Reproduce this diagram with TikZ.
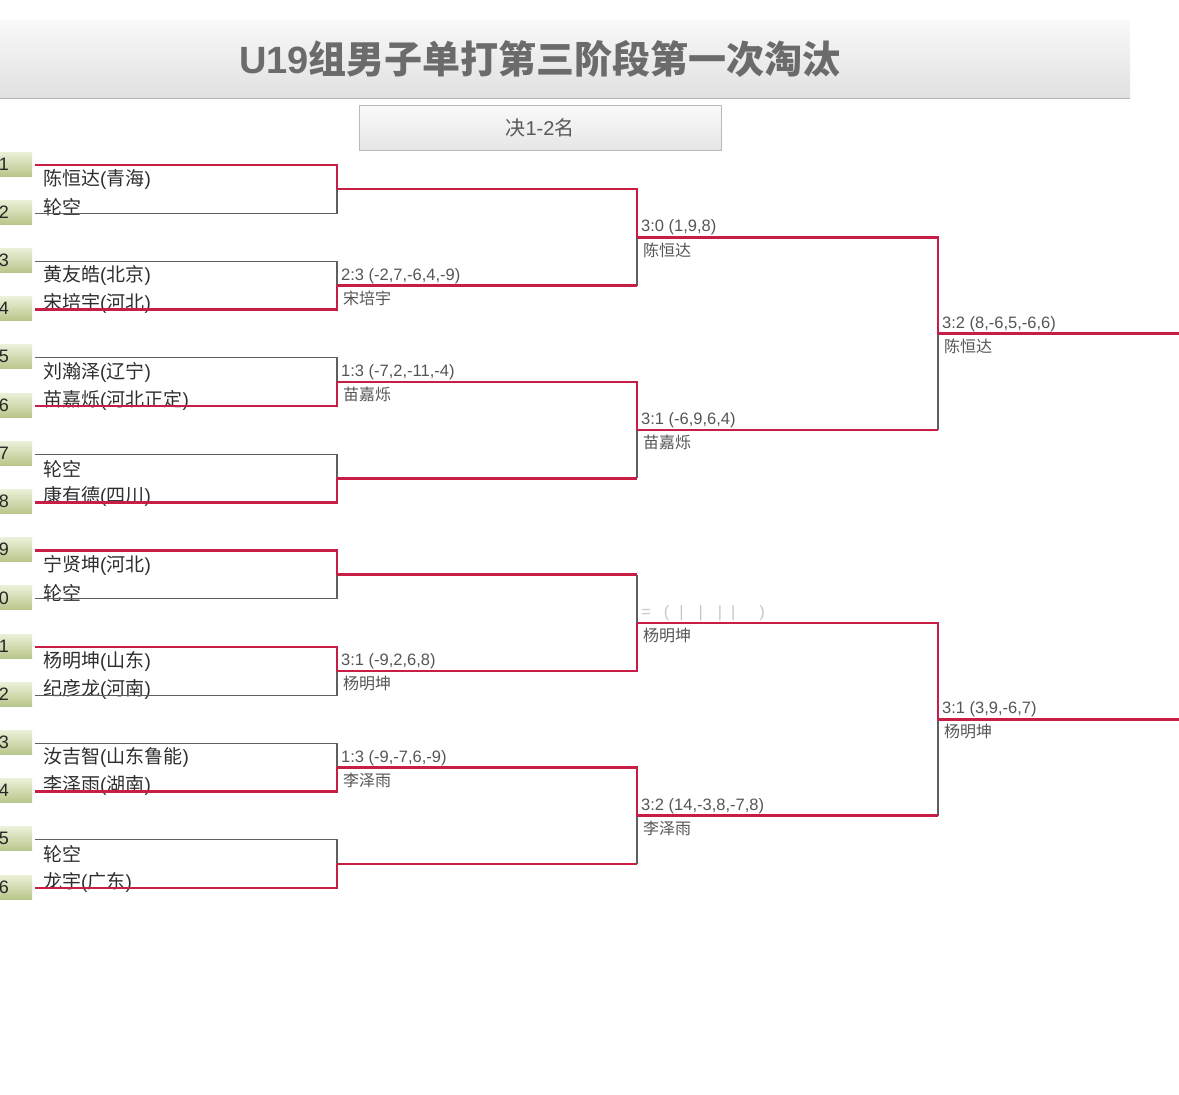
\documentclass[tikz,border=0pt]{standalone}
\usepackage{fontspec}
\setmainfont{Liberation Sans}
\newfontfamily\cjk{Noto Sans CJK SC}
\usetikzlibrary{positioning, calc}

\definecolor{winred}{RGB}{200,30,70}
\definecolor{linegray}{RGB}{95,95,95}
\definecolor{txtgray}{RGB}{85,85,85}
\definecolor{seedlight}{RGB}{234,240,216}
\definecolor{seeddark}{RGB}{184,198,138}

% name with region in brackets
\newcommand{\plname}[2]{{\cjk #1}({\cjk #2})}

\begin{document}
\begin{tikzpicture}[x=1pt, y=-1pt,
    every node/.style={inner sep=0pt},
    win/.style={draw=winred, line width=2.6pt},
    lose/.style={draw=linegray, line width=1.1pt},
    titlebar/.style={minimum width=1180pt, minimum height=78pt,
                     top color=gray!5, bottom color=gray!24, text=black!58,
                     font=\fontsize{38}{38}\selectfont},
    stagebox/.style={draw=gray!55, minimum width=362pt, minimum height=45pt,
                     top color=gray!4, bottom color=gray!20, text=black!65,
                     font=\fontsize{20}{20}\selectfont},
    seedbox/.style={minimum width=62pt, minimum height=24pt,
                    top color=seedlight, bottom color=seeddark},
    seednum/.style={anchor=east, font=\fontsize{18}{18}\selectfont, text=black!85},
    player/.style={anchor=west, xshift=8pt, text=black!82,
                   font=\fontsize{19}{19}\selectfont},
    score/.style={anchor=base west, xshift=4pt, yshift=5.5pt, text=txtgray,
                  font=\fontsize{16.5}{16.5}\selectfont},
    winner/.style={anchor=north west, xshift=6pt, yshift=-5pt, text=txtgray,
                   font=\fontsize{16}{16}\selectfont\cjk}
]
\useasboundingbox (0,0) rectangle (1179,1095);
\clip (0,0) rectangle (1179,1095);

% heading
\node[titlebar] (title) at (540,59) {\bfseries U19\cjk 组男子单打第三阶段第一次淘汰};
\draw[gray!60, line width=1pt] (title.south west) -- (title.south east);
\node[stagebox, below=7pt of title] (stage) {{\cjk 决}1-2{\cjk 名}};

% seeds and entry points
\foreach \i in {1,...,16} {
  \pgfmathsetmacro\yy{165+(\i-1)*48.2}
  \node[seedbox] (b\i) at (1,\yy-1) {};
  \node[seednum] (n\i) at (9,\yy-1) {\i};
  \coordinate (p\i) at (35,\yy);
}

% joints
\coordinate (m1) at (337,189.1);
\coordinate (m2) at (337,285.5);
\coordinate (m3) at (337,381.9);
\coordinate (m4) at (337,478.3);
\coordinate (m5) at (337,574.7);
\coordinate (m6) at (337,671.1);
\coordinate (m7) at (337,767.5);
\coordinate (m8) at (337,863.9);
\coordinate (s1) at (637,237.3);
\coordinate (s2) at (637,430.1);
\coordinate (s3) at (637,622.9);
\coordinate (s4) at (637,815.7);
\coordinate (t1) at (938,333.7);
\coordinate (t2) at (938,719.3);
\coordinate (e1) at (1190,333.7);
\coordinate (e2) at (1190,719.3);

% players
\node[player, yshift=-14.5pt] (a1)  at (p1)  {\plname{陈恒达}{青海}};
\node[player, yshift=6pt]     (a2)  at (p2)  {\cjk 轮空};
\node[player, yshift=-14.5pt] (a3)  at (p3)  {\plname{黄友皓}{北京}};
\node[player, yshift=6pt]     (a4)  at (p4)  {\plname{宋培宇}{河北}};
\node[player, yshift=-14.5pt] (a5)  at (p5)  {\plname{刘瀚泽}{辽宁}};
\node[player, yshift=6pt]     (a6)  at (p6)  {\plname{苗嘉烁}{河北正定}};
\node[player, yshift=-14.5pt] (a7)  at (p7)  {\cjk 轮空};
\node[player, yshift=6pt]     (a8)  at (p8)  {\plname{康有德}{四川}};
\node[player, yshift=-14.5pt] (a9)  at (p9)  {\plname{宁贤坤}{河北}};
\node[player, yshift=6pt]     (a10) at (p10) {\cjk 轮空};
\node[player, yshift=-14.5pt] (a11) at (p11) {\plname{杨明坤}{山东}};
\node[player, yshift=6pt]     (a12) at (p12) {\plname{纪彦龙}{河南}};
\node[player, yshift=-14.5pt] (a13) at (p13) {\plname{汝吉智}{山东鲁能}};
\node[player, yshift=6pt]     (a14) at (p14) {\plname{李泽雨}{湖南}};
\node[player, yshift=-14.5pt] (a15) at (p15) {\cjk 轮空};
\node[player, yshift=6pt]     (a16) at (p16) {\plname{龙宇}{广东}};

% first round
\draw[lose] (p2) -| (m1);
\draw[lose] (p3) -| (m2);
\draw[lose] (p5) -| (m3);
\draw[lose] (p7) -| (m4);
\draw[lose] (p10) -| (m5);
\draw[lose] (p12) -| (m6);
\draw[lose] (p13) -| (m7);
\draw[lose] (p15) -| (m8);
\draw[win] (p1) -| (m1);
\draw[win] (p4) -| (m2);
\draw[win] (p6) -| (m3);
\draw[win] (p8) -| (m4);
\draw[win] (p9) -| (m5);
\draw[win] (p11) -| (m6);
\draw[win] (p14) -| (m7);
\draw[win] (p16) -| (m8);

% second round
\draw[lose] (m2 -| s1) -- (s1);
\draw[lose] (m4 -| s2) -- (s2);
\draw[lose] (m5 -| s3) -- (s3);
\draw[lose] (m8 -| s4) -- (s4);
\draw[win] (m1) -| (s1);
\draw[win] (m2) -- (m2 -| s1);
\draw[win] (m3) -| (s2);
\draw[win] (m4) -- (m4 -| s2);
\draw[win] (m6) -| (s3);
\draw[win] (m5) -- (m5 -| s3);
\draw[win] (m7) -| (s4);
\draw[win] (m8) -- (m8 -| s4);

% semi-finals
\draw[lose] (s2 -| t1) -- (t1);
\draw[lose] (s4 -| t2) -- (t2);
\draw[win] (s1) -| (t1);
\draw[win] (s2) -- (s2 -| t1);
\draw[win] (s3) -| (t2);
\draw[win] (s4) -- (s4 -| t2);
\draw[win] (t1) -- (e1);
\draw[win] (t2) -- (e2);

% results
\node[score]  (r2)  at (m2) {2:3 (-2,7,-6,4,-9)};
\node[winner] (w2)  at (m2) {宋培宇};
\node[score]  (r3)  at (m3) {1:3 (-7,2,-11,-4)};
\node[winner] (w3)  at (m3) {苗嘉烁};
\node[score]  (r6)  at (m6) {3:1 (-9,2,6,8)};
\node[winner] (w6)  at (m6) {杨明坤};
\node[score]  (r7)  at (m7) {1:3 (-9,-7,6,-9)};
\node[winner] (w7)  at (m7) {李泽雨};
\node[score]  (q1)  at (s1) {3:0 (1,9,8)};
\node[winner] (v1)  at (s1) {陈恒达};
\node[score]  (q2)  at (s2) {3:1 (-6,9,6,4)};
\node[winner] (v2)  at (s2) {苗嘉烁};
\node[score, text=gray!45] (q3) at (s3)
  {=\hspace{13pt}(\hspace{10pt}|\hspace{15pt}|\hspace{15pt}|\hspace{9pt}|\hspace{24pt})};
\node[winner] (v3)  at (s3) {杨明坤};
\node[score]  (q4)  at (s4) {3:2 (14,-3,8,-7,8)};
\node[winner] (v4)  at (s4) {李泽雨};
\node[score]  (f1)  at (t1) {3:2 (8,-6,5,-6,6)};
\node[winner] (g1)  at (t1) {陈恒达};
\node[score]  (f2)  at (t2) {3:1 (3,9,-6,7)};
\node[winner] (g2)  at (t2) {杨明坤};
\end{tikzpicture}
\end{document}
